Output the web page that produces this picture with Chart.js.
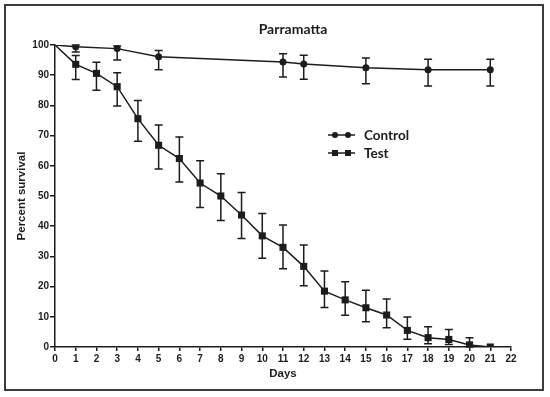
<!DOCTYPE html>
<html>
<head>
<meta charset="utf-8">
<script src="https://cdn.jsdelivr.net/npm/chart.js@4"></script>
<style>
  html, body { margin: 0; padding: 0; background: #fff; }
  #wrap { width: 550px; height: 397px; }
</style>
</head>
<body>
<div id="wrap"><canvas id="survival-chart" width="550" height="397"></canvas></div>
<script>
// Data
const chartTitle = "Parramatta";

const controlDays = [0, 1, 3, 5, 11, 12, 15, 18, 21];
const controlSurvival = [100, 99.4, 98.8, 96.1, 94.4, 93.7, 92.5, 91.8, 91.8];
const controlUpper = [null, 100, 99.7, 98.2, 97.1, 96.6, 95.7, 95.3, 95.3];
const controlLower = [null, 97.7, 95.0, 91.8, 89.4, 88.7, 87.2, 86.4, 86.4];

const testDays = [0, 1, 2, 3, 4, 5, 6, 7, 8, 9, 10, 11, 12, 13, 14, 15, 16, 17, 18, 19, 20, 21];
const testSurvival = [100, 93.6, 90.6, 86.2, 75.6, 66.8, 62.4, 54.3, 50.0, 43.7, 36.8, 33.0, 26.7, 18.5, 15.6, 13.0, 10.6, 5.5, 3.1, 2.5, 0.7, 0];
const testUpper = [null, 96.5, 94.3, 90.8, 81.6, 73.5, 69.5, 61.7, 57.4, 51.2, 44.2, 40.4, 33.8, 25.2, 21.6, 18.8, 15.9, 9.9, 6.7, 5.8, 3.1, null];
const testLower = [null, 88.6, 85.0, 79.8, 68.1, 58.9, 54.6, 46.2, 41.9, 35.9, 29.4, 25.9, 20.3, 13.1, 10.5, 8.4, 6.4, 2.6, 1.1, 0.8, 0, null];

const ink = "#1c1c1c";

function toPoints(days, vals) {
  return days.map((d, i) => ({ x: d, y: vals[i] }));
}

// error bars, frame, title and the inner legend
const extras = {
  id: "extras",
  beforeDraw(chart) {
    const ctx = chart.ctx;
    ctx.save();
    ctx.fillStyle = "#fff";
    ctx.fillRect(0, 0, chart.width, chart.height);
    ctx.strokeStyle = "#3c3c3c";
    ctx.lineWidth = 2;
    ctx.strokeRect(5, 5, 538, 385);
    ctx.restore();
  },
  beforeDatasetsDraw(chart) {
    const ctx = chart.ctx;
    const xs = chart.scales.x, ys = chart.scales.y;
    const sets = [[controlDays, controlUpper, controlLower], [testDays, testUpper, testLower]];
    ctx.save();
    ctx.strokeStyle = ink;
    ctx.lineWidth = 1.5;
    sets.forEach(([days, up, lo]) => {
      days.forEach((d, i) => {
        if (up[i] == null) return;
        const x = xs.getPixelForValue(d);
        const y1 = ys.getPixelForValue(up[i]);
        const y2 = ys.getPixelForValue(lo[i]);
        ctx.beginPath();
        ctx.moveTo(x, y1); ctx.lineTo(x, y2);
        ctx.moveTo(x - 4, y1); ctx.lineTo(x + 4, y1);
        ctx.moveTo(x - 4, y2); ctx.lineTo(x + 4, y2);
        ctx.stroke();
      });
    });
    ctx.restore();
  },
  afterDraw(chart) {
    const ctx = chart.ctx;
    ctx.save();
    ctx.fillStyle = ink;
    ctx.textBaseline = "middle";
    ctx.textAlign = "center";
    ctx.font = "bold 14px Lato";
    ctx.fillText(chartTitle, 293, 29);

    // legend
    const rows = [["Control", "circle", 135], ["Test", "rect", 153]];
    ctx.font = "bold 13.5px Lato";
    ctx.textAlign = "left";
    rows.forEach(([label, style, y]) => {
      ctx.strokeStyle = ink;
      ctx.lineWidth = 1.5;
      ctx.beginPath();
      ctx.moveTo(328, y); ctx.lineTo(355, y);
      ctx.stroke();
      [335, 348].forEach(mx => {
        ctx.beginPath();
        if (style === "circle") ctx.arc(mx, y, 3, 0, Math.PI * 2);
        else ctx.rect(mx - 3, y - 3, 6, 6);
        ctx.fill();
      });
      ctx.fillText(label, 364, y + 1);
    });
    ctx.restore();
  }
};

new Chart(document.getElementById("survival-chart"), {
  type: "line",
  data: {
    datasets: [
      {
        label: "Control",
        data: toPoints(controlDays, controlSurvival),
        borderColor: ink,
        backgroundColor: ink,
        borderWidth: 1.5,
        pointStyle: "circle",
        pointRadius: controlDays.map((d, i) => i === 0 ? 0 : 3.5),
        pointBorderWidth: 0,
        tension: 0
      },
      {
        label: "Test",
        data: toPoints(testDays, testSurvival),
        borderColor: ink,
        backgroundColor: ink,
        borderWidth: 1.5,
        pointStyle: "rect",
        pointRadius: testDays.map((d, i) => i === 0 ? 0 : 5),
        pointBorderWidth: 0,
        tension: 0
      }
    ]
  },
  options: {
    responsive: false,
    animation: false,
    layout: { padding: { left: 0, right: 39, top: 45, bottom: 0 } },
    plugins: {
      legend: { display: false },
      title: { display: false },
      tooltip: { enabled: false }
    },
    scales: {
      x: {
        type: "linear",
        min: 0,
        max: 22,
        afterFit(scale) { scale.height = 50; },
        ticks: {
          stepSize: 1,
          color: ink,
          padding: 2,
          font: { family: "Liberation Sans", weight: "bold", size: 10 }
        },
        grid: { drawOnChartArea: false, color: ink, lineWidth: 1.5, tickLength: 4 },
        border: { color: ink, width: 1.5 },
        title: {
          display: true,
          text: "Days",
          color: ink,
          padding: { top: 0, bottom: 16 },
          font: { family: "Liberation Sans", weight: "bold", size: 11.5 }
        }
      },
      y: {
        min: 0,
        max: 100,
        afterFit(scale) { scale.width = 55; },
        ticks: {
          stepSize: 10,
          color: ink,
          padding: 1,
          font: { family: "Liberation Sans", weight: "bold", size: 10 }
        },
        grid: { drawOnChartArea: false, color: ink, lineWidth: 1.5, tickLength: 5 },
        border: { color: ink, width: 1.5 },
        title: {
          display: true,
          text: "Percent survival",
          color: ink,
          padding: { top: 15, bottom: 0 },
          font: { family: "Liberation Sans", weight: "bold", size: 11.5 }
        }
      }
    }
  },
  plugins: [extras]
});
</script>
</body>
</html>
